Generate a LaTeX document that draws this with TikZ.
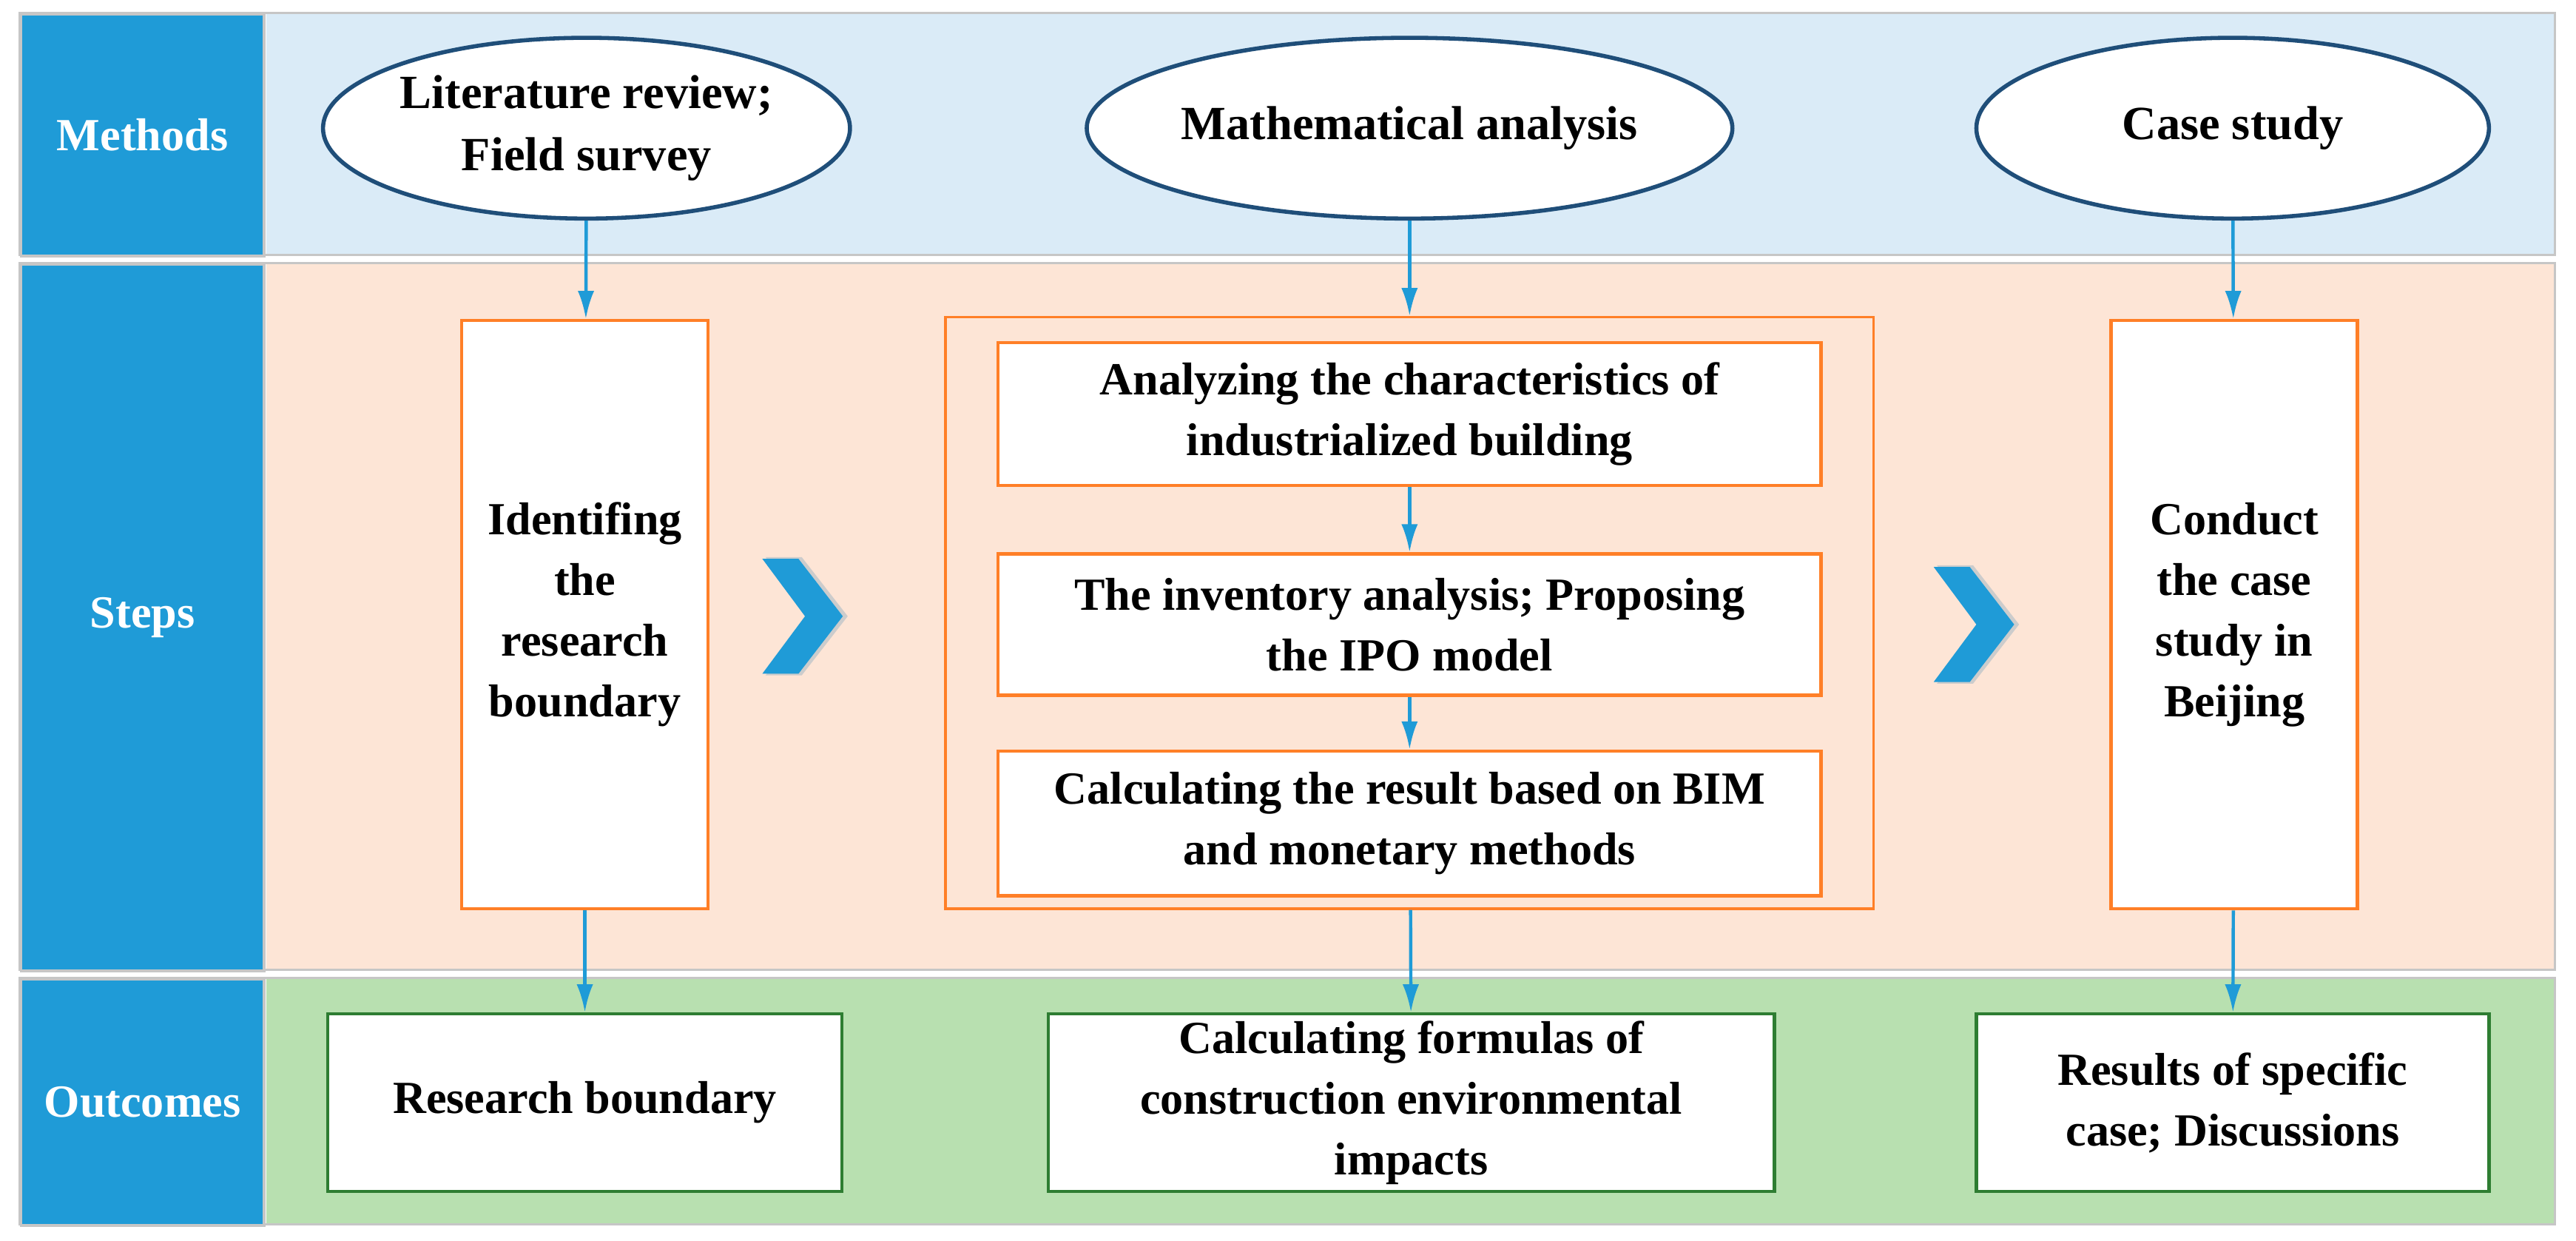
\documentclass[tikz,border=0pt]{standalone}
\usepackage{fontspec}
\setmainfont{Liberation Serif}
\usetikzlibrary{arrows.meta,shapes.geometric}
\definecolor{lblue}{HTML}{1F9BD7}
\definecolor{bandb}{HTML}{DAEBF7}
\definecolor{bandp}{HTML}{FDE5D6}
\definecolor{bandg}{HTML}{B8E0B0}
\definecolor{orng}{HTML}{FF7F27}
\definecolor{gbord}{HTML}{2E7D32}
\definecolor{ebord}{HTML}{1F4E79}
\begin{document}
\begin{tikzpicture}[x=1pt,y=-1pt,
  lab/.style={fill=lblue,draw=gray!45,line width=1.5pt,text=white,font=\fontsize{28}{32}\selectfont\bfseries},
  band/.style={draw=gray!45,line width=1.5pt},
  ell/.style={ellipse,draw=ebord,line width=2.5pt,fill=white,align=center,font=\fontsize{29}{38}\selectfont\bfseries,inner sep=0pt},
  obox/.style={draw=orng,line width=2pt,fill=white,align=center,font=\fontsize{28}{37}\selectfont\bfseries,inner sep=0pt},
  gbox/.style={draw=gbord,line width=2pt,fill=white,align=center,font=\fontsize{28}{37}\selectfont\bfseries,inner sep=0pt},
  arr/.style={draw=lblue,line width=2pt,-{Latex[length=17pt,width=10pt]}}]
\useasboundingbox (0,0) rectangle (1568,755);
% bands
\fill[bandb] (162,8) rectangle (1555,155);
\fill[bandp] (162,160) rectangle (1555,590);
\fill[bandg] (162,595) rectangle (1555,745);
\draw[band] (12,8) rectangle (1555,155);
\draw[band] (12,160) rectangle (1555,590);
\draw[band] (12,595) rectangle (1555,745);
\node[lab,minimum width=148pt,minimum height=147pt,anchor=north west] (lm) at (12,8) {Methods};
\node[lab,minimum width=148pt,minimum height=430pt,anchor=north west] (ls) at (12,160) {Steps};
\node[lab,minimum width=148pt,minimum height=150pt,anchor=north west] (lo) at (12,595) {Outcomes};
% ellipses
\node[ell,minimum width=314pt,minimum height=110pt] (e1) at (357,78) {Literature review;\\Field survey};
\node[ell,minimum width=376pt,minimum height=110pt] (e2) at (858,78) {Mathematical analysis};
\node[ell,minimum width=312pt,minimum height=110pt] (e3) at (1359,78) {Case study};
% steps
\node[obox,minimum width=150pt,minimum height=358pt] (s1) at (356,374) {Identifing\\the\\research\\boundary};
\node[draw=orng,line width=1.5pt,minimum width=565pt,minimum height=360pt] (s2) at (858,373) {};
\node[obox,minimum width=501pt,minimum height=87pt] (m1) at (858,252) {Analyzing the characteristics of\\industrialized building};
\node[obox,minimum width=501pt,minimum height=86pt] (m2) at (858,380) {The inventory analysis; Proposing\\the IPO model};
\node[obox,minimum width=501pt,minimum height=88pt] (m3) at (858,501) {Calculating the result based on BIM\\and monetary methods};
\node[obox,minimum width=150pt,minimum height=358pt] (s3) at (1360,374) {Conduct\\the case\\study in\\Beijing};
% chevrons
\foreach \cx/\cy in {500/375,1213/380}{
  \fill[gray!40] (\cx-34,\cy-36) -- (\cx-12,\cy-36) -- (\cx+16,\cy) -- (\cx-12,\cy+36) -- (\cx-34,\cy+36) -- (\cx-8,\cy) -- cycle;
  \fill[lblue] (\cx-36,\cy-35) -- (\cx-14,\cy-35) -- (\cx+13,\cy) -- (\cx-14,\cy+35) -- (\cx-36,\cy+35) -- (\cx-10,\cy) -- cycle;
}
% outcomes
\node[gbox,minimum width=313pt,minimum height=108pt] (o1) at (356,671) {Research boundary};
\node[gbox,minimum width=442pt,minimum height=108pt] (o2) at (859,671) {Calculating formulas of\\construction environmental\\impacts};
\node[gbox,minimum width=312pt,minimum height=108pt] (o3) at (1359,671) {Results of specific\\case; Discussions};
% arrows
\draw[arr] (e1) -- (s1);
\draw[arr] (e2) -- (s2);
\draw[arr] (e3) -- (s3);
\draw[arr] (m1) -- (m2);
\draw[arr] (m2) -- (m3);
\draw[arr] (s1) -- (o1);
\draw[arr] (s2) -- (o2);
\draw[arr] (s3) -- (o3);
\end{tikzpicture}
\end{document}
